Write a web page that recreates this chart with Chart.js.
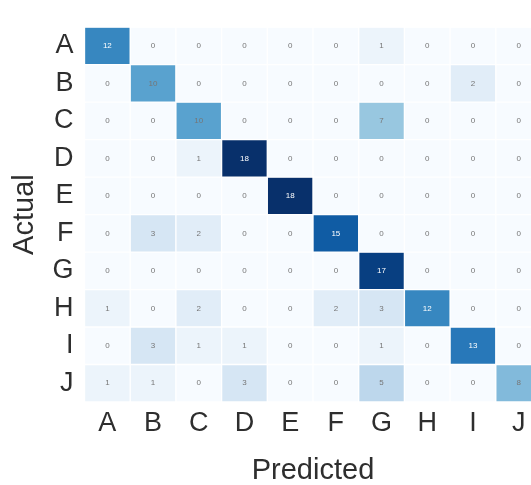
<!DOCTYPE html>
<html>
<head>
<meta charset="utf-8">
<script src="https://cdn.jsdelivr.net/npm/chart.js@4.4.1/dist/chart.umd.min.js"></script>
<style>
  html, body { margin: 0; padding: 0; background: #fff; overflow: hidden; }
  #wrap { position: absolute; left: 0; top: 0; width: 545px; height: 485px; }
</style>
</head>
<body>
<div id="wrap"><canvas id="cm"></canvas></div>
<script>
// class labels
const actual = ['A', 'B', 'C', 'D', 'E', 'F', 'G', 'H', 'I', 'J'];
const predicted = ['A', 'B', 'C', 'D', 'E', 'F', 'G', 'H', 'I', 'J'];

// one row of counts per actual class
const rowA = [12, 0, 0, 0, 0, 0, 1, 0, 0, 0];
const rowB = [0, 10, 0, 0, 0, 0, 0, 0, 2, 0];
const rowC = [0, 0, 10, 0, 0, 0, 7, 0, 0, 0];
const rowD = [0, 0, 1, 18, 0, 0, 0, 0, 0, 0];
const rowE = [0, 0, 0, 0, 18, 0, 0, 0, 0, 0];
const rowF = [0, 3, 2, 0, 0, 15, 0, 0, 0, 0];
const rowG = [0, 0, 0, 0, 0, 0, 17, 0, 0, 0];
const rowH = [1, 0, 2, 0, 0, 2, 3, 12, 0, 0];
const rowI = [0, 3, 1, 1, 0, 0, 1, 0, 13, 0];
const rowJ = [1, 1, 0, 3, 0, 0, 5, 0, 0, 8];
const counts = [rowA, rowB, rowC, rowD, rowE, rowF, rowG, rowH, rowI, rowJ];

const vmax = 18;

// "Blues" colour ramp
const blues = [
  [247, 251, 255], [222, 235, 247], [198, 219, 239], [158, 202, 225],
  [107, 174, 214], [66, 146, 198], [33, 113, 181], [8, 81, 156], [8, 48, 107]
];
function blue(v) {
  const t = Math.max(0, Math.min(1, v / vmax)) * (blues.length - 1);
  const i = Math.min(Math.floor(t), blues.length - 2);
  const f = t - i;
  const c = blues[i].map((a, k) => Math.round(a + (blues[i + 1][k] - a) * f));
  return `rgb(${c[0]},${c[1]},${c[2]})`;
}

// each actual class is a dataset of floating bars spanning its row
const datasets = counts.map((row, r) => ({
  label: actual[r],
  data: row.map(() => [r, r + 1]),
  backgroundColor: row.map(blue),
  borderColor: 'rgba(255,255,255,0.7)',
  borderWidth: 1,
  borderSkipped: false,
  grouped: false,
  barPercentage: 1,
  categoryPercentage: 1
}));

const cellText = {
  id: 'cellText',
  afterDatasetsDraw(chart) {
    const ctx = chart.ctx;
    ctx.save();
    ctx.font = '8px "Liberation Sans", Arial, sans-serif';
    ctx.textAlign = 'center';
    ctx.textBaseline = 'middle';
    chart.data.datasets.forEach((ds, r) => {
      chart.getDatasetMeta(r).data.forEach((bar, c) => {
        const v = counts[r][c];
        const p = bar.getCenterPoint();
        ctx.fillStyle = v >= 11 ? '#ffffff' : '#767676';
        ctx.fillText(String(v), p.x, p.y);
      });
    });
    ctx.restore();
  }
};

const tickFont = { family: '"Liberation Sans", Arial, sans-serif', size: 27 };
const titleFont = { family: '"Liberation Sans", Arial, sans-serif', size: 29, lineHeight: 1 };

new Chart(document.getElementById('cm'), {
  type: 'bar',
  data: { labels: predicted, datasets },
  options: {
    responsive: true,
    maintainAspectRatio: false,
    animation: false,
    layout: { padding: { top: 10, right: 3.5, left: 0, bottom: 0 } },
    plugins: { legend: { display: false }, tooltip: { enabled: false } },
    scales: {
      x: {
        type: 'category',
        grid: { display: false, drawTicks: false },
        border: { display: false },
        ticks: { color: '#2e2e2e', font: tickFont, padding: 5, maxRotation: 0 },
        title: {
          display: true, text: 'Predicted', color: '#2e2e2e', font: titleFont,
          padding: { top: 0, bottom: 0 }
        },
        afterFit(scale) { scale.height = 83; }
      },
      y: {
        type: 'linear',
        min: 0,
        max: 10,
        reverse: true,
        grid: { display: false, drawTicks: false },
        border: { display: false },
        afterBuildTicks(scale) {
          scale.ticks = actual.map((_, i) => ({ value: i + 0.5 }));
        },
        ticks: {
          color: '#2e2e2e', font: tickFont, padding: 11,
          callback: (v, i) => actual[i]
        },
        title: {
          display: true, text: 'Actual', color: '#2e2e2e', font: titleFont,
          padding: { top: 10, bottom: 0 }
        },
        afterFit(scale) { scale.width = 84.5; }
      }
    }
  },
  plugins: [cellText]
});
</script>
</body>
</html>
